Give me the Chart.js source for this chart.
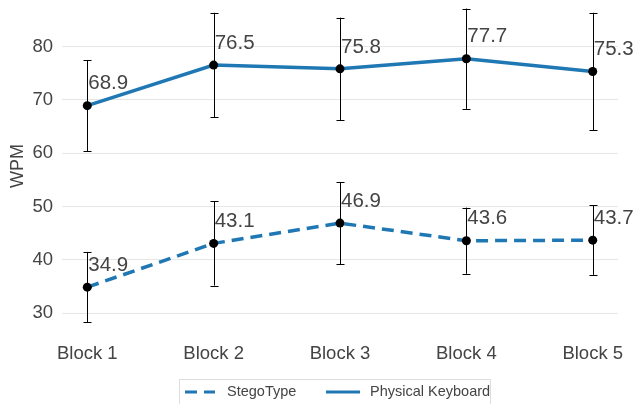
<!DOCTYPE html>
<html>
<head>
<meta charset="utf-8">
<script src="https://cdn.jsdelivr.net/npm/chart.js@4"></script>
<style>
  html, body { margin: 0; padding: 0; background: #fff; }
  #wpmChart { display: block; }
</style>
</head>
<body>
<canvas id="wpmChart" width="633" height="404"></canvas>
<script>
// Block labels and mean WPM per condition
const blocks = ["Block 1", "Block 2", "Block 3", "Block 4", "Block 5"];
const stegoMeans = [34.9, 43.1, 46.9, 43.6, 43.7];
const stegoErr = [6.6, 7.9, 7.7, 6.2, 6.5];
const keyboardMeans = [68.9, 76.5, 75.8, 77.7, 75.3];
const keyboardErr = [8.5, 9.8, 9.6, 9.4, 11.0];
const yTicks = [30, 40, 50, 60, 70, 80];

const lineColor = "#1f77b4";
const textColor = "#444444";
const fontFamily = "'Liberation Sans', Arial, sans-serif";

function toPoints(values, errors) {
  return values.map((v, i) => ({ x: i, y: v, err: errors[i] }));
}

// error bars under the markers
const errorBars = {
  id: "errorBars",
  beforeDatasetsDraw(chart) {
    const { ctx, scales } = chart;
    ctx.save();
    ctx.strokeStyle = "#000";
    ctx.lineWidth = 1;
    chart.data.datasets.forEach((ds) => {
      ds.data.forEach((p) => {
        const x = Math.round(scales.x.getPixelForValue(p.x)) + 0.5;
        const top = scales.y.getPixelForValue(p.y + p.err);
        const bottom = scales.y.getPixelForValue(p.y - p.err);
        ctx.beginPath();
        ctx.moveTo(x, top);
        ctx.lineTo(x, bottom);
        ctx.moveTo(x - 4, Math.round(top) + 0.5);
        ctx.lineTo(x + 4, Math.round(top) + 0.5);
        ctx.moveTo(x - 4, Math.round(bottom) + 0.5);
        ctx.lineTo(x + 4, Math.round(bottom) + 0.5);
        ctx.stroke();
      });
    });
    ctx.restore();
  },
};

// value labels up and right of each point
const valueLabels = {
  id: "valueLabels",
  afterDatasetsDraw(chart) {
    const { ctx, scales } = chart;
    ctx.save();
    ctx.font = "20.5px " + fontFamily;
    ctx.fillStyle = textColor;
    ctx.textAlign = "left";
    ctx.textBaseline = "middle";
    chart.data.datasets.forEach((ds) => {
      ds.data.forEach((p) => {
        const x = scales.x.getPixelForValue(p.x);
        const y = scales.y.getPixelForValue(p.y);
        ctx.fillText(p.y.toFixed(1), x + 1, y - 22);
      });
    });
    ctx.restore();
  },
};

// boxed legend at the bottom
const boxLegend = {
  id: "boxLegend",
  afterDraw(chart) {
    const { ctx } = chart;
    ctx.save();
    ctx.strokeStyle = "#dddddd";
    ctx.lineWidth = 1;
    ctx.strokeRect(179.5, 379.5, 311, 30);
    ctx.font = "14.5px " + fontFamily;
    ctx.fillStyle = textColor;
    ctx.textBaseline = "middle";
    ctx.textAlign = "left";
    const cy = 392;
    const items = [
      { ds: chart.data.datasets[0], x0: 185, x1: 215, tx: 227 },
      { ds: chart.data.datasets[1], x0: 326, x1: 360, tx: 370 },
    ];
    items.forEach((it) => {
      ctx.strokeStyle = lineColor;
      ctx.lineWidth = 3;
      ctx.setLineDash(it.ds.borderDash || []);
      ctx.beginPath();
      ctx.moveTo(it.x0, cy);
      ctx.lineTo(it.x1, cy);
      ctx.stroke();
      ctx.setLineDash([]);
      ctx.fillText(it.ds.label, it.tx, cy);
    });
    ctx.restore();
  },
};

new Chart(document.getElementById("wpmChart"), {
  type: "line",
  data: {
    datasets: [
      {
        label: "StegoType",
        data: toPoints(stegoMeans, stegoErr),
        borderColor: lineColor,
        borderWidth: 3.5,
        borderDash: [12, 7],
        pointRadius: 4.5,
        pointBackgroundColor: "#000",
        pointBorderWidth: 0,
        tension: 0,
      },
      {
        label: "Physical Keyboard",
        data: toPoints(keyboardMeans, keyboardErr),
        borderColor: lineColor,
        borderWidth: 3.5,
        pointRadius: 4.5,
        pointBackgroundColor: "#000",
        pointBorderWidth: 0,
        tension: 0,
      },
    ],
  },
  options: {
    responsive: false,
    animation: false,
    devicePixelRatio: 1,
    layout: { autoPadding: false, padding: { left: 0, right: 15, top: 0, bottom: 31 } },
    plugins: {
      legend: { display: false },
      tooltip: { enabled: false },
    },
    scales: {
      x: {
        type: "linear",
        min: -0.2,
        max: 4.2,
        afterBuildTicks: (scale) => {
          scale.ticks = blocks.map((b, i) => ({ value: i }));
        },
        afterFit: (scale) => {
          scale.height = 41;
          scale.paddingLeft = 0;
          scale.paddingRight = 0;
        },
        grid: { display: false, drawTicks: false },
        border: { display: false },
        ticks: {
          padding: 11,
          color: textColor,
          font: { family: fontFamily, size: 18.5 },
          callback: (v) => blocks[v],
        },
      },
      y: {
        min: 26.5,
        max: 88.7,
        afterBuildTicks: (scale) => {
          scale.ticks = yTicks.map((v) => ({ value: v }));
        },
        afterFit: (scale) => {
          scale.width = 62;
          scale.paddingTop = 0;
          scale.paddingBottom = 0;
        },
        grid: { color: "#e6e6e6", lineWidth: 1, drawTicks: false },
        border: { display: false },
        ticks: {
          padding: 9,
          color: textColor,
          font: { family: fontFamily, size: 18.5 },
        },
        title: {
          display: true,
          text: "WPM",
          color: textColor,
          font: { family: fontFamily, size: 18 },
          padding: { top: 7, bottom: 0 },
        },
      },
    },
  },
  plugins: [errorBars, valueLabels, boxLegend],
});
</script>
</body>
</html>
